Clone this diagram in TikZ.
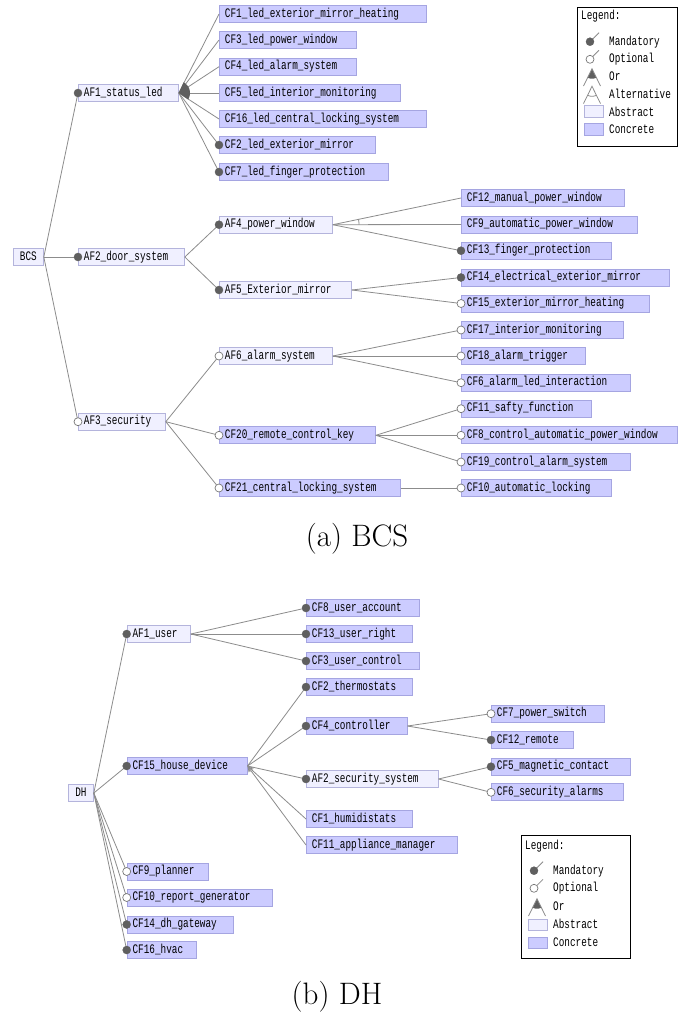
\documentclass[tikz,border=0pt]{standalone}
\usepackage{fontspec}
\newfontfamily\fmono[FakeStretch=0.72]{Liberation Mono}
\usetikzlibrary{arrows.meta}

\definecolor{confill}{RGB}{204,204,255}
\definecolor{condraw}{RGB}{165,165,225}
\definecolor{absfill}{RGB}{240,240,255}
\definecolor{absdraw}{RGB}{180,180,220}
\definecolor{mandc}{RGB}{95,95,95}
\definecolor{optc}{RGB}{120,120,120}
\definecolor{linec}{RGB}{140,140,140}

% feature box: style, name, left x, centre y, right x, label
\newcommand\featbox[6]{%
  \pgfmathsetmacro\fbw{#5-#3-11}%
  \node[#1, text width=\fbw pt, anchor=west] (#2) at (#3,#4) {#6};}

\begin{document}
\begin{tikzpicture}[x=1pt,y=-1pt,
  monofont/.style={font=\fmono\fontsize{13}{15}\selectfont},
  feat/.style={monofont, draw, line width=0.8pt, minimum height=17pt,
    inner xsep=5.5pt, inner ysep=0pt, text height=8pt, text depth=2pt, align=left},
  abs/.style={feat, fill=absfill, draw=absdraw},
  con/.style={feat, fill=confill, draw=condraw},
  root/.style={abs, align=center},
  mand/.style={circle, fill=mandc, draw=mandc, minimum size=8pt, inner sep=0pt},
  opt/.style={circle, fill=white, draw=optc, line width=0.7pt, minimum size=8pt, inner sep=0pt},
  conn/.style={draw=linec, line width=0.8pt},
  req/.style={conn, {Straight Barb[length=5pt,width=5pt]}-},
  legtext/.style={monofont, anchor=west, inner sep=0pt},
  caption/.style={font=\fontsize{31}{36}\selectfont, anchor=base, inner sep=0pt}]

\useasboundingbox (0,0) rectangle (678,1018);
\fill[white] (0,0) rectangle (678,1018);

% ---------------- BCS feature model ----------------
\featbox{root}{bcs}{13}{257}{43}{BCS}
\featbox{abs}{af1}{78}{93}{178}{AF1\_status\_led}
\featbox{abs}{af2}{78}{257}{184}{AF2\_door\_system}
\featbox{abs}{af3}{78}{421.7}{165}{AF3\_security}

\featbox{con}{cf1}{219}{14}{426}{CF1\_led\_exterior\_mirror\_heating}
\featbox{con}{cf3}{219}{40}{356}{CF3\_led\_power\_window}
\featbox{con}{cf4}{219}{66.7}{356}{CF4\_led\_alarm\_system}
\featbox{con}{cf5}{219}{93}{400}{CF5\_led\_interior\_monitoring}
\featbox{con}{cf16}{219}{119}{426}{CF16\_led\_central\_locking\_system}
\featbox{con}{cf2}{219}{145}{375}{CF2\_led\_exterior\_mirror}
\featbox{con}{cf7}{219}{172}{388}{CF7\_led\_finger\_protection}

\featbox{abs}{af4}{219}{224.7}{332}{AF4\_power\_window}
\featbox{abs}{af5}{219}{290}{351}{AF5\_Exterior\_mirror}
\featbox{con}{cf12}{461}{198}{624}{CF12\_manual\_power\_window}
\featbox{con}{cf9}{461}{224.5}{637}{CF9\_automatic\_power\_window}
\featbox{con}{cf13}{461}{250.7}{611}{CF13\_finger\_protection}
\featbox{con}{cf14}{461}{277.5}{669}{CF14\_electrical\_exterior\_mirror}
\featbox{con}{cf15}{461}{303.5}{649}{CF15\_exterior\_mirror\_heating}

\featbox{abs}{af6}{219}{356}{332}{AF6\_alarm\_system}
\featbox{con}{cf20}{219}{435.3}{375}{CF20\_remote\_control\_key}
\featbox{con}{cf21}{219}{488}{400}{CF21\_central\_locking\_system}
\featbox{con}{cf17}{461}{330}{623}{CF17\_interior\_monitoring}
\featbox{con}{cf18}{461}{356}{585}{CF18\_alarm\_trigger}
\featbox{con}{cf6}{461}{382.7}{629.5}{CF6\_alarm\_led\_interaction}
\featbox{con}{cf11}{461}{408.7}{591}{CF11\_safty\_function}
\featbox{con}{cf8}{461}{435.3}{677}{CF8\_control\_automatic\_power\_window}
\featbox{con}{cf19}{461}{462}{629.5}{CF19\_control\_alarm\_system}
\featbox{con}{cf10}{461}{488}{610.5}{CF10\_automatic\_locking}

\foreach \c in {af1,af2,af3} \draw[conn] (bcs.east) -- (\c.west);
\foreach \c in {cf1,cf3,cf4,cf5,cf16,cf2,cf7} \draw[conn] (af1.east) -- (\c.west);
\foreach \c in {af4,af5} \draw[conn] (af2.east) -- (\c.west);
\foreach \c in {cf12,cf9,cf13} \draw[conn] (af4.east) -- (\c.west);
\foreach \c in {cf14,cf15} \draw[conn] (af5.east) -- (\c.west);
\foreach \c in {af6,cf20,cf21} \draw[conn] (af3.east) -- (\c.west);
\foreach \c in {cf17,cf18,cf6} \draw[conn] (af6.east) -- (\c.west);
\foreach \c in {cf11,cf8,cf19} \draw[conn] (cf20.east) -- (\c.west);
\draw[conn] (cf21.east) -- (cf10.west);

% or-group of the status leds, alternative group of the power window
\fill[mandc] (af1.east) -- plot[domain=-62.6:32.4, samples=16]
  ({178+12*cos(\x)},{93+12*sin(\x)}) -- cycle;
\draw[conn] plot[domain=-11.7:0, samples=8] ({332+27*cos(\x)},{224.7+27*sin(\x)});

\foreach \c in {af1,af2,cf2,cf7,af4,af5,cf13,cf14}
  \node[mand] (\c-m) at (\c.west) {};
\foreach \c in {af3,cf15,af6,cf20,cf21,cf17,cf18,cf6,cf11,cf8,cf19,cf10}
  \node[opt] (\c-o) at (\c.west) {};

\node[caption] (capa) at (357,546) {(a) BCS};

% ---------------- DH feature model ----------------
\featbox{root}{dh}{68}{793}{93}{DH}
\featbox{abs}{uaf1}{126.7}{634}{190}{AF1\_user}
\featbox{con}{ucf15}{126.7}{766}{246.7}{CF15\_house\_device}
\featbox{con}{ucf9}{126.7}{871.5}{208}{CF9\_planner}
\featbox{con}{ucf10}{126.7}{897.5}{272}{CF10\_report\_generator}
\featbox{con}{ucf14}{126.7}{924.5}{233}{CF14\_dh\_gateway}
\featbox{con}{ucf16}{126.7}{950}{196}{CF16\_hvac}

\featbox{con}{ucf8}{306}{608}{419}{CF8\_user\_account}
\featbox{con}{ucf13}{306}{634}{412.3}{CF13\_user\_right}
\featbox{con}{ucf3}{306}{661}{419}{CF3\_user\_control}
\featbox{con}{ucf2}{306}{687}{412.3}{CF2\_thermostats}
\featbox{con}{ucf4}{306}{726}{406.7}{CF4\_controller}
\featbox{abs}{uaf2}{306}{779}{437.7}{AF2\_security\_system}
\featbox{con}{ucf1}{306}{819}{412.3}{CF1\_humidistats}
\featbox{con}{ucf11}{306}{845}{456.7}{CF11\_appliance\_manager}

\featbox{con}{ucf7}{491}{713.7}{604}{CF7\_power\_switch}
\featbox{con}{ucf12}{491}{740}{572.7}{CF12\_remote}
\featbox{con}{ucf5}{491}{766.7}{630}{CF5\_magnetic\_contact}
\featbox{con}{ucf6}{491}{792.3}{622.7}{CF6\_security\_alarms}

\foreach \c in {uaf1,ucf15,ucf9,ucf10,ucf14,ucf16} \draw[conn] (dh.east) -- (\c.west);
\foreach \c in {ucf8,ucf13,ucf3} \draw[conn] (uaf1.east) -- (\c.west);
\foreach \c in {ucf2,ucf4,uaf2} \draw[conn] (ucf15.east) -- (\c.west);
\foreach \c in {ucf1,ucf11} \draw[req] (ucf15.east) -- (\c.west);
\foreach \c in {ucf7,ucf12} \draw[conn] (ucf4.east) -- (\c.west);
\foreach \c in {ucf5,ucf6} \draw[conn] (uaf2.east) -- (\c.west);

\foreach \c in {uaf1,ucf15,ucf14,ucf16,ucf8,ucf13,ucf3,ucf2,ucf4,uaf2,ucf12,ucf5}
  \node[mand] (\c-m) at (\c.west) {};
\foreach \c in {ucf9,ucf10,ucf7,ucf6}
  \node[opt] (\c-o) at (\c.west) {};

\node[caption] (capb) at (337,1004) {(b) DH};

% ---------------- legends ----------------
\begin{scope}[shift={(577,7)}]
  \draw[black, line width=0.8pt] (0,0) rectangle (100,139);
  \node[legtext] (la0) at (4,9) {Legend:};
  \draw[conn] (13,34.7) -- (22,25.7);
  \node[mand] (la1i) at (13,34.7) {};
  \node[legtext] (la1) at (32,34.7) {Mandatory};
  \draw[conn] (13,52.3) -- (22,43.3);
  \node[opt] (la2i) at (13,52.3) {};
  \node[legtext] (la2) at (32,52.3) {Optional};
  \fill[mandc] (15,61.7) -- plot[domain=64:116, samples=10] ({15+10*cos(\x)},{61.7+10*sin(\x)}) -- cycle;
  \draw[conn] (6.5,79) -- (15,61.7) -- (23.5,79);
  \node[legtext] (la3) at (32,69.7) {Or};
  \draw[conn] plot[domain=64:116, samples=10] ({15+10*cos(\x)},{79.3+10*sin(\x)});
  \draw[conn] (6.5,96.6) -- (15,79.3) -- (23.5,96.6);
  \node[legtext] (la4) at (32,87.3) {Alternative};
  \draw[absdraw, fill=absfill, line width=0.8pt] (7,98.7) rectangle (26,110.7);
  \node[legtext] (la5) at (32,104.7) {Abstract};
  \draw[condraw, fill=confill, line width=0.8pt] (7,116.3) rectangle (26,128.3);
  \node[legtext] (la6) at (32,122.3) {Concrete};
\end{scope}

\begin{scope}[shift={(521,835.7)}]
  \draw[black, line width=0.8pt] (0,0) rectangle (109.7,122.3);
  \node[legtext] (lb0) at (4,10) {Legend:};
  \draw[conn] (13,35) -- (22,26);
  \node[mand] (lb1i) at (13,35) {};
  \node[legtext] (lb1) at (32,35) {Mandatory};
  \draw[conn] (13,52.6) -- (22,43.6);
  \node[opt] (lb2i) at (13,52.6) {};
  \node[legtext] (lb2) at (32,52.6) {Optional};
  \fill[mandc] (16,63) -- plot[domain=64:116, samples=10] ({16+10*cos(\x)},{63+10*sin(\x)}) -- cycle;
  \draw[conn] (7.5,80.3) -- (16,63) -- (24.5,80.3);
  \node[legtext] (lb3) at (32,71) {Or};
  \draw[absdraw, fill=absfill, line width=0.8pt] (7,83.6) rectangle (26,94.6);
  \node[legtext] (lb4) at (32,88.6) {Abstract};
  \draw[condraw, fill=confill, line width=0.8pt] (7,101.6) rectangle (26,112.6);
  \node[legtext] (lb5) at (32,106.6) {Concrete};
\end{scope}
\end{tikzpicture}
\end{document}
